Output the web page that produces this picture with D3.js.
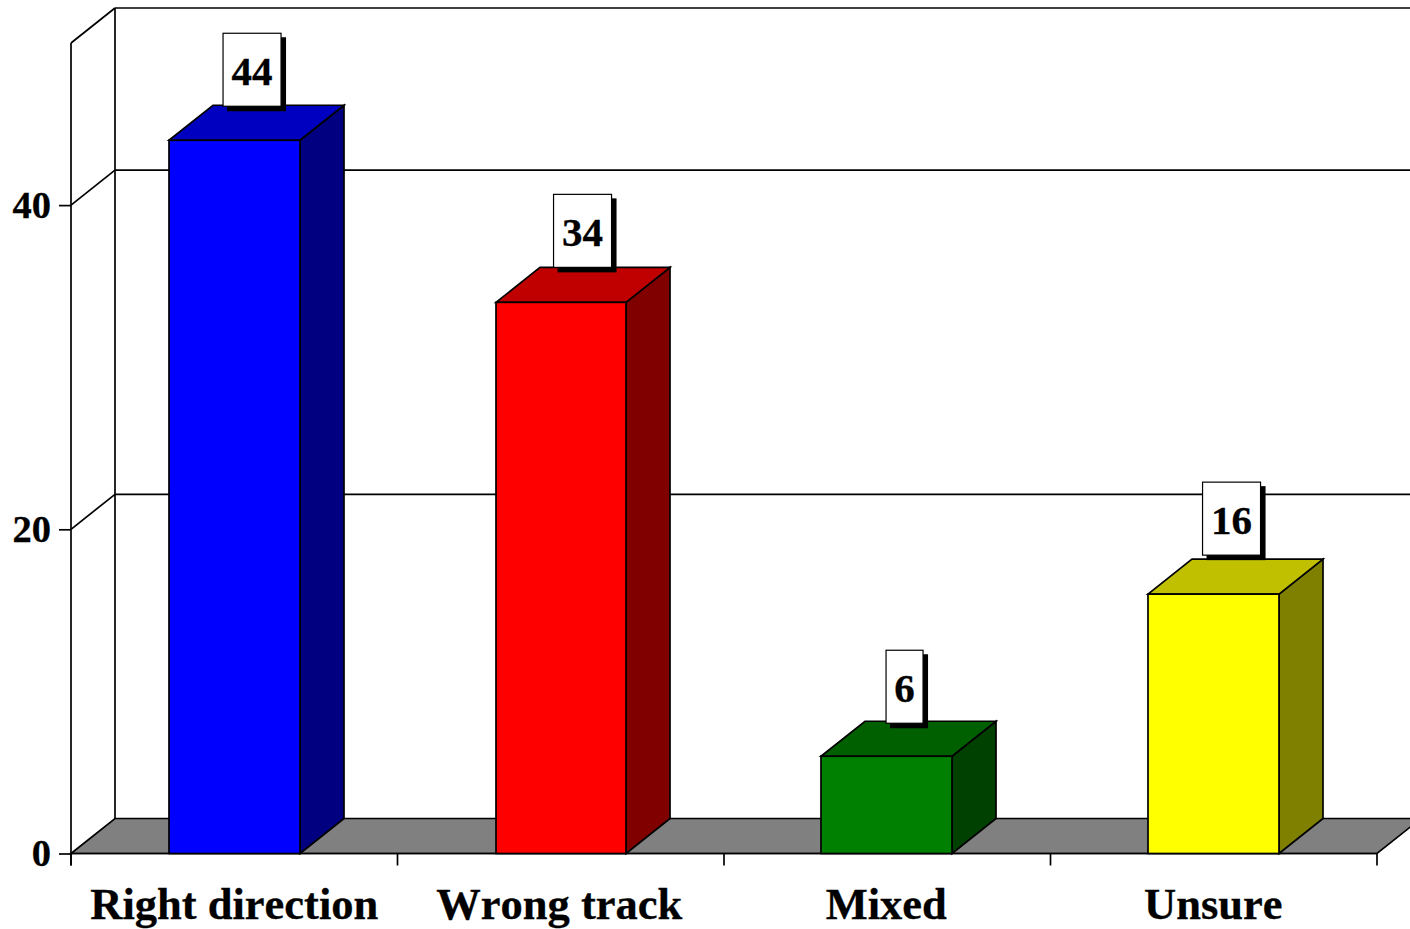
<!DOCTYPE html>
<html><head><meta charset="utf-8">
<script src="https://cdn.jsdelivr.net/npm/d3@7/dist/d3.min.js"></script>
<style>html,body{margin:0;padding:0;background:#fff;overflow:hidden}svg{display:block}
text{font-family:"Liberation Serif",serif;font-weight:bold;fill:#000;font-kerning:none}</style>
</head><body><div id="c"></div>
<script>
const categories=["Right direction","Wrong track","Mixed","Unsure"];
const values=[44,34,6,16];
const valueLabels=["44","34","6","16"];
const faceColors=["#0000ff","#ff0000","#008000","#ffff00"];
const topColors=["#0000c0","#c00000","#006000","#c0c000"];
const sideColors=["#000080","#800000","#004000","#808000"];
const yTicks=[0,20,40];
// layout nudges of each value label from the bar centre / bar top, of each bar and category label
const labelDx=[17.8,21.8,17.3,17.8];
const labelDy=[-34,-35,-33,-39];
const barNudge=[0,.1,-.8,0];
const catNudge=[0,-1.5,-1,-.5];

const W=1410,H=929,dx=44,dy=-35,sw=1.7;
const svg=d3.select("#c").append("svg").attr("width",W).attr("height",H);
const x=d3.scaleBand().domain(categories).range([71,1377]).paddingInner(.6).paddingOuter(.3);
const y=d3.scaleLinear().domain([0,50]).range([853.5,43]);
const step=x.step(),x0=71,x1=1377;
const line=p=>d3.line()(p)+"Z";
const L=(a,b,c,d)=>svg.append("line").attr("x1",a).attr("y1",b).attr("x2",c).attr("y2",d).attr("stroke","#000").attr("stroke-width",sw);

svg.append("path").attr("d",line([[x0,y(0)],[x1,y(0)],[x1+dx,y(0)+dy],[x0+dx,y(0)+dy]])).attr("fill","#808080").attr("stroke","#000").attr("stroke-width",sw);
L(x0+dx,y(50)+dy,x0+dx,y(0)+dy);
L(x0+dx,y(50)+dy,W+20,y(50)+dy);
L(x0,y(50),x0+dx,y(50)+dy);
yTicks.filter(t=>t>0).forEach(t=>{L(x0,y(t),x0+dx,y(t)+dy);L(x0+dx,y(t)+dy,W+20,y(t)+dy);});

const ay=svg.append("g").attr("transform",`translate(${x0},0)`).call(d3.axisLeft(y).tickValues(yTicks).tickSize(12).tickPadding(8).tickSizeOuter(0));
ay.select(".domain").attr("stroke","#000").attr("stroke-width",sw).attr("d",`M0,${y(50)}V${y(0)+12}`);
ay.selectAll(".tick line").attr("stroke","#000").attr("stroke-width",sw);
ay.selectAll("text").attr("font-size",38.5).attr("font-family","Liberation Serif").attr("font-weight","bold").attr("dy","12").attr("stroke","#000").attr("stroke-width",.3);

const ax=svg.append("g").attr("transform",`translate(0,${y(0)})`).call(d3.axisBottom(x).tickSize(0).tickPadding(23));
ax.select(".domain").remove();
ax.selectAll("text").attr("font-size",44.5).attr("font-family","Liberation Serif").attr("font-weight","bold").attr("dy","42").attr("dx",(d,i)=>catNudge[i]).attr("stroke","#000").attr("stroke-width",.3);
d3.range(categories.length+1).forEach(i=>L(x0+i*step,y(0),x0+i*step,y(0)+12));
L(x0,y(0),x1,y(0));

const bw=x.bandwidth();
const g=svg.append("g").attr("stroke","#000").attr("stroke-width",sw).attr("stroke-linejoin","miter");
categories.forEach((c,i)=>{
  const l=Math.round(x(c)+barNudge[i]),r=Math.round(x(c)+bw+barNudge[i]),t=y(values[i]),b=y(0);
  g.append("path").attr("d",line([[r,b],[r+dx,b+dy],[r+dx,t+dy],[r,t]])).attr("fill",sideColors[i]);
  g.append("path").attr("d",line([[l,t],[r,t],[r+dx,t+dy],[l+dx,t+dy]])).attr("fill",topColors[i]);
  g.append("rect").attr("x",l).attr("y",t).attr("width",r-l).attr("height",b-t).attr("fill",faceColors[i]);
});

const boxW=s=>s.length>1?58:37, boxH=73;
categories.forEach((c,i)=>{
  const s=valueLabels[i],cx=x(c)+bw/2+labelDx[i],bot=y(values[i])+labelDy[i],w=boxW(s);
  svg.append("rect").attr("x",cx-w/2+4).attr("y",bot-boxH+4).attr("width",w+1).attr("height",boxH+1).attr("fill","#000");
  svg.append("rect").attr("x",cx-w/2).attr("y",bot-boxH).attr("width",w).attr("height",boxH).attr("fill","#fff").attr("stroke","#000").attr("stroke-width",1.2);
  svg.append("text").attr("x",cx).attr("y",bot-21).attr("text-anchor","middle").attr("font-size",41).attr("stroke","#000").attr("stroke-width",.3).text(s);
});
</script></body></html>
